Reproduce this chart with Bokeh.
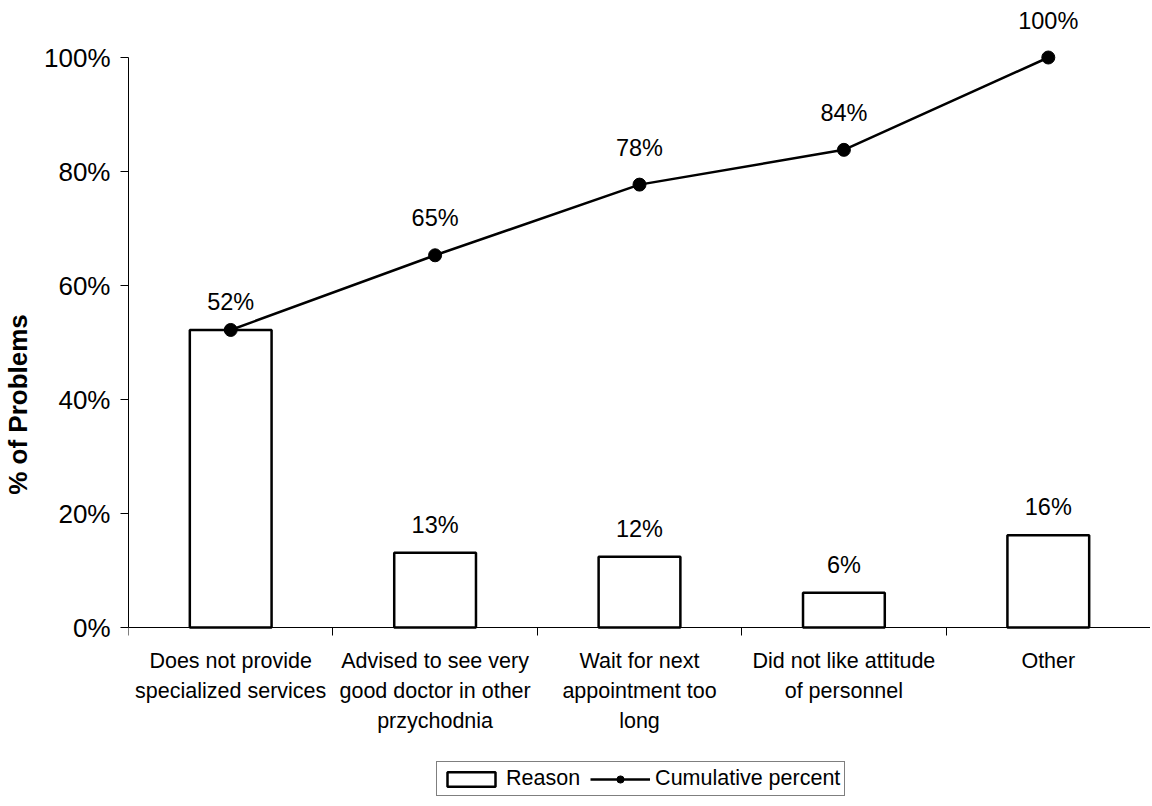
from bokeh.plotting import figure
from bokeh.models import (Range1d, FixedTicker, NumeralTickFormatter, LinearAxis,
                          ColumnDataSource, LabelSet, Legend, LegendItem)
from bokeh.core.properties import value
from bokeh.embed import file_html
from bokeh.resources import INLINE

# ---- data ----
categories = [
    "Does not provide\nspecialized services",
    "Advised to see very\ngood doctor in other\nprzychodnia",
    "Wait for next\nappointment too\nlong",
    "Did not like attitude\nof personnel",
    "Other",
]
reason_pct = [52.2, 13.1, 12.4, 6.1, 16.2]
cumulative_pct = [52.2, 65.3, 77.7, 83.8, 100.0]
y_ticks = [0, 20, 40, 60, 80, 100]

FONT = "Liberation Sans"

PX_PER_UNIT = 570.0          # pixels for 0..100%
FRAME_TOP, ZERO_Y, FRAME_BOTTOM = 11, 627, 797

xpos = [i + 0.5 for i in range(len(categories))]
bar_src = ColumnDataSource(dict(
    x=xpos,
    y=[v / 100 for v in reason_pct],
    lab=[f"{round(v)}%" for v in reason_pct],
))
cum_src = ColumnDataSource(dict(
    x=xpos,
    y=[v / 100 for v in cumulative_pct],
))
cum_lab_src = ColumnDataSource(dict(
    x=xpos[1:],
    y=[v / 100 for v in cumulative_pct[1:]],
    lab=[f"{round(v)}%" for v in cumulative_pct[1:]],
))

y_start = -(FRAME_BOTTOM - ZERO_Y) / PX_PER_UNIT
y_end = 1 + (ZERO_Y - PX_PER_UNIT - FRAME_TOP) / PX_PER_UNIT

p = figure(
    frame_width=1022, frame_height=FRAME_BOTTOM - FRAME_TOP,
    min_border_left=128, min_border_right=0, min_border_top=FRAME_TOP, min_border_bottom=0,
    x_range=Range1d(0, len(categories)), y_range=Range1d(y_start, y_end),
    output_backend="svg", toolbar_location=None,
    x_axis_type=None, y_axis_type=None,
)
p.outline_line_color = None
p.background_fill_color = "white"
p.border_fill_color = "white"

bars = p.vbar(x="x", top="y", bottom=0, width=0.4, source=bar_src, fill_color="white",
              line_color="black", line_width=2.5)
line = p.line(x="x", y="y", source=cum_src, line_color="black", line_width=2.5)
pts = p.scatter(x="x", y="y", source=cum_src, size=13, marker="circle",
                fill_color="black", line_color="black")

# y axis
yax = LinearAxis(
    ticker=FixedTicker(ticks=[t / 100 for t in y_ticks], minor_ticks=[]),
    formatter=NumeralTickFormatter(format="0%"),
    bounds=(0, 1),
    axis_label="% of Problems",
)
yax.axis_line_color = "black"
yax.major_tick_line_color = "black"
yax.major_tick_out = 8
yax.major_tick_in = 0
yax.minor_tick_out = 0
yax.minor_tick_in = 0
yax.major_label_text_font = FONT
yax.major_label_text_font_size = "26px"
yax.major_label_text_color = "black"
yax.major_label_standoff = 10
yax.axis_label_text_font = FONT
yax.axis_label_text_font_style = "bold"
yax.axis_label_text_font_size = "26px"
yax.axis_label_text_color = "black"
yax.axis_label_standoff = 8
p.add_layout(yax, "left")

# x axis drawn at y = 0, ticks at category boundaries
n_bounds = list(range(len(categories) + 1))
xax = LinearAxis(
    ticker=FixedTicker(ticks=n_bounds, minor_ticks=[]),
    major_label_overrides={b: "" for b in n_bounds},
    fixed_location=0,
)
xax.axis_line_color = "black"
xax.major_tick_line_color = "black"
xax.major_tick_out = 8
xax.major_tick_in = 0
xax.minor_tick_out = 0
xax.minor_tick_in = 0
xax.major_label_text_font_size = "0px"
xax.major_label_standoff = 0
p.add_layout(xax, "below")

# category labels (one LabelSet per text line)
split = [c.split("\n") for c in categories]
max_lines = max(len(s) for s in split)
for k in range(max_lines):
    xs = [x for x, s in zip(xpos, split) if len(s) > k]
    ts = [s[k] for s in split if len(s) > k]
    src = ColumnDataSource(dict(x=xs, y=[0] * len(xs), t=ts))
    p.add_layout(LabelSet(x="x", y="y", text="t", source=src, y_offset=-(33 + 30 * k),
                          text_align="center", text_baseline="middle",
                          text_font=value(FONT), text_font_size="21.5px",
                          text_color="black"))

# data labels
p.add_layout(LabelSet(x="x", y="y", text="lab", source=bar_src, y_offset=28,
                      text_align="center", text_baseline="middle",
                      text_font=value(FONT), text_font_size="23.5px", text_color="black"))
p.add_layout(LabelSet(x="x", y="y", text="lab", source=cum_lab_src, y_offset=37,
                      text_align="center", text_baseline="middle",
                      text_font=value(FONT), text_font_size="23.5px", text_color="black"))

legend = Legend(
    items=[LegendItem(label="Reason", renderers=[bars]),
           LegendItem(label="Cumulative percent", renderers=[line, pts])],
    orientation="horizontal",
    location=(308, 1),
)
legend.border_line_color = "black"
legend.border_line_width = 1
legend.background_fill_color = "white"
legend.label_text_font = FONT
legend.label_text_font_size = "21.5px"
legend.label_text_color = "black"
legend.glyph_width = 60
legend.glyph_height = 18
legend.label_standoff = 5
legend.spacing = 10
legend.padding = 4
legend.margin = 0
legend.label_height = 20
p.add_layout(legend, "center")

open("out.html", "w").write(file_html(p, INLINE))
